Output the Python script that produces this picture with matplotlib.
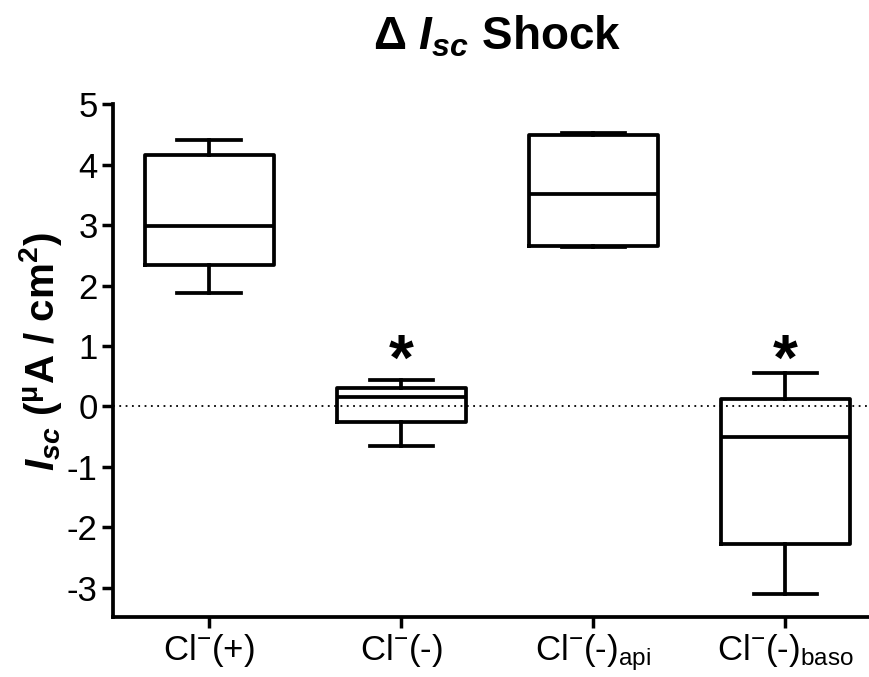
import matplotlib
matplotlib.use("Agg")
import matplotlib.pyplot as plt

plt.rcParams['font.family'] = ['Liberation Sans', 'DejaVu Sans']
plt.rcParams['mathtext.fontset'] = 'custom'
plt.rcParams['mathtext.rm'] = 'Liberation Sans'
plt.rcParams['mathtext.it'] = 'Liberation Sans:italic'
plt.rcParams['mathtext.bf'] = 'Liberation Sans:bold'
plt.rcParams['mathtext.bfit'] = 'Liberation Sans:italic:bold'
plt.rcParams['mathtext.sf'] = 'Liberation Sans'

categories = [r"Cl$^{\mathregular{-}}$(+)", r"Cl$^{\mathregular{-}}$(-)",
              r"Cl$^{\mathregular{-}}$(-)$_{\mathregular{api}}$",
              r"Cl$^{\mathregular{-}}$(-)$_{\mathregular{baso}}$"]
whislo = [1.88, -0.66, 2.63, -3.10]
q1 = [2.34, -0.25, 2.66, -2.27]
med = [2.99, 0.15, 3.52, -0.51]
q3 = [4.16, 0.30, 4.49, 0.13]
whishi = [4.41, 0.44, 4.53, 0.55]
significant = [False, True, False, True]
yticks = [-3, -2, -1, 0, 1, 2, 3, 4, 5]

fig = plt.figure(figsize=(8.7, 6.77), dpi=100)
ax = fig.add_axes([0.130, 0.089, 0.870, 0.757])

stats = [dict(whislo=a, q1=b, med=c, q3=d, whishi=e, fliers=[])
         for a, b, c, d, e in zip(whislo, q1, med, q3, whishi)]
pos = list(range(1, len(categories) + 1))
lw = 2.7
ax.bxp(stats, positions=pos, widths=0.67, capwidths=0.33, showfliers=False,
       boxprops=dict(color='black', linewidth=lw),
       whiskerprops=dict(color='black', linewidth=lw),
       capprops=dict(color='black', linewidth=lw),
       medianprops=dict(color='black', linewidth=lw))

ax.axhline(0, color='black', linestyle=(0, (1, 2.5)), linewidth=1.3, zorder=0)

for p, s in zip(pos, significant):
    if s:
        ax.text(p, 0.72, '*', ha='center', va='center', fontsize=46,
                fontweight='bold')

ax.set_xlim(0.5, 4.44)
ax.set_ylim(-3.48, 5)
ax.set_yticks(yticks)
ax.set_yticklabels([str(t) for t in yticks])
ax.set_xticks(pos)
ax.set_xticklabels(categories)
ax.tick_params(axis='both', labelsize=25, width=2.5, length=8, pad=3)
for sp in ['top', 'right']:
    ax.spines[sp].set_visible(False)
for sp in ['left', 'bottom']:
    ax.spines[sp].set_linewidth(2.7)

fig.text(0.046, 0.48, r"$\mathbfit{I}_{\mathbfit{sc}}$ ($^{\mathbf{\mu}}$A / cm$^{\mathbf{2}}$)",
         rotation=90, ha='center', va='center', fontsize=29, fontweight='bold')
fig.text(0.571, 0.945, r"Δ $\mathbfit{I}_{\mathbfit{sc}}$ Shock",
         ha='center', va='center', fontsize=33, fontweight='bold')

fig.savefig('out.png', dpi=100)
